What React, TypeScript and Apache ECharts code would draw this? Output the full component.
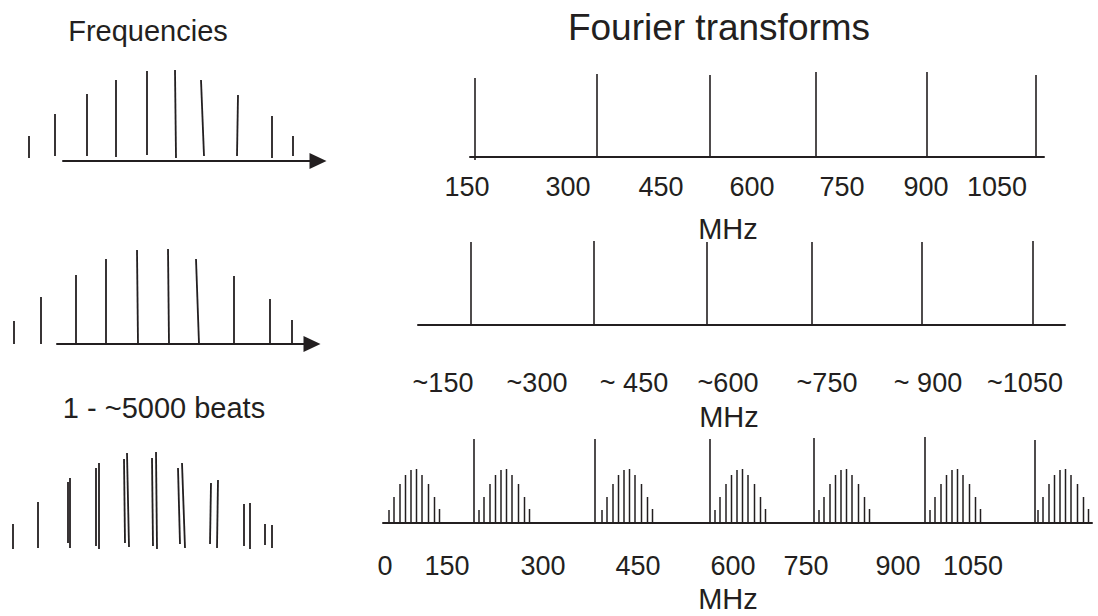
import React, { useEffect, useRef } from "react";
import * as echarts from "echarts";

const INK = "#231f20";
const FONT = "'Liberation Sans', Arial, Helvetica, sans-serif";

// Units in every panel: x = px along the panel's axis from its start, y = px above the axis.
// Stems: [xBottom, yBottom, xTop, yTop]
const freqComb1 = [
  [-34, 3, -34, 25], [-8, 5, -8, 47], [24, 5, 24, 67], [53, 4, 53, 81], [84, 6, 84, 90],
  [113, 3, 112, 91], [141, 5, 138, 81], [174, 5, 175, 66], [209, 3, 209, 45], [230, 5, 230, 25],
];
const freqComb2 = [
  [-43, 0, -43, 23], [-16, 0, -16, 47], [19, 0, 19, 69], [49, 0, 49, 85], [81, 0, 80, 94],
  [112, 0, 111, 95], [142, 0, 139, 85], [177, 0, 177, 68], [213, 0, 213, 45], [235, 0, 235, 24],
];
const beatStems = [
  [13, 1, 13, 26], [38, 2, 38, 48],
  [68, 7, 68, 68], [70, 2, 70, 72],
  [96, 4, 96, 82], [99, 1, 99, 87],
  [125, 7, 124, 91], [129, 3, 127, 97],
  [153, 4, 152, 92], [157, 1, 156, 98],
  [180, 6, 178, 82], [185, 2, 182, 87],
  [210, 6, 211, 67], [217, 2, 218, 70],
  [244, 4, 244, 46], [250, 1, 250, 47],
  [265, 5, 265, 26], [272, 2, 272, 25],
];

// Fourier panel A
const peaksA = [5, 127, 240, 346, 457, 566];
const peakHeightsA = [79, 83, 82, 85, 85, 82];
const tickLabelsA = ["150", "300", "450", "600", "750", "900", "1050"];
const tickPosA = [-3, 98, 191, 282, 372, 456, 527];

// Fourier panel B
const peaksB = [53, 176, 289, 394, 504, 615];
const peakHeightsB = [83, 84, 83, 83, 83, 84];
const tickLabelsB = ["~150", "~300", "~ 450", "~600", "~750", "~ 900", "~1050"];
const tickPosB = [25, 119, 216, 310, 409, 510, 607];

// Fourier panel C
const peaksC = [91, 212, 327, 431, 542, 652];
const peakHeightsC = [84, 84, 84, 85, 86, 83];
const groupStartsC = [6, 96, 219, 332, 436, 547, 655];
const combOffsets = [0, 5, 11, 16.5, 22, 27.5, 33, 39.5, 45.5, 50.5];
const combHeights = [13, 26, 39, 48, 53, 54, 48, 39, 26, 14];
const tickLabelsC = ["0", "150", "300", "450", "600", "750", "900", "1050"];
const tickPosC = [2, 64, 160, 255, 350, 423, 515, 590];

const unitLabel = "MHz";

// Grid layouts (pixels)
const grids = [
  { left: 63, top: 61, width: 255, height: 100, axis: true, arrow: true },   // L1
  { left: 57, top: 244, width: 255, height: 100, axis: true, arrow: true },  // L2
  { left: 0, top: 450, width: 300, height: 100, axis: false, arrow: false }, // L3
  { left: 470, top: 57, width: 574, height: 100, axis: true, arrow: false }, // A
  { left: 418, top: 225, width: 647, height: 100, axis: true, arrow: false },// B
  { left: 383, top: 423, width: 709, height: 100, axis: true, arrow: false },// C
];

function stemSeries(g: number, data: number[][], lw: number) {
  return {
    type: "custom",
    xAxisIndex: g,
    yAxisIndex: g,
    clip: false,
    silent: true,
    data,
    renderItem: (_p: any, api: any) => {
      const a = api.coord([api.value(0), api.value(1)]);
      const b = api.coord([api.value(2), api.value(3)]);
      return {
        type: "line",
        shape: { x1: a[0], y1: a[1], x2: b[0], y2: b[1] },
        style: { stroke: INK, lineWidth: lw },
      };
    },
  };
}

function textSeries(g: number, data: number[][], texts: string[], size: number) {
  return {
    type: "custom",
    xAxisIndex: g,
    yAxisIndex: g,
    clip: false,
    silent: true,
    data,
    renderItem: (p: any, api: any) => {
      const c = api.coord([api.value(0), api.value(1)]);
      return {
        type: "text",
        x: c[0],
        y: c[1],
        style: {
          text: texts[p.dataIndex],
          fill: INK,
          fontSize: size,
          fontFamily: FONT,
          align: "center",
          verticalAlign: "middle",
        },
      };
    },
  };
}

export default function App() {
  const ref = useRef<HTMLDivElement>(null);
  useEffect(() => {
    if (!ref.current) return;
    const chart = echarts.init(ref.current, undefined, { renderer: "svg" });

    const stemsA = peaksA.map((x, i) => [x, i === 0 ? -3 : 0, x, peakHeightsA[i]]);
    const stemsB = peaksB.map((x, i) => [x, 0, x, peakHeightsB[i]]);
    const stemsC = peaksC.map((x, i) => [x, 0, x, peakHeightsC[i]]);
    const combC: number[][] = [];
    groupStartsC.forEach((s) =>
      combOffsets.forEach((o, j) => combC.push([s + o, 0, s + o, combHeights[j]]))
    );

    const option: any = {
      animation: false,
      backgroundColor: "#ffffff",
      grid: grids.map((g) => ({ left: g.left, top: g.top, width: g.width, height: g.height })),
      xAxis: grids.map((g, i) => ({
        type: "value",
        gridIndex: i,
        min: 0,
        max: g.width,
        axisLine: {
          show: g.axis,
          onZero: false,
          symbol: g.arrow ? ["none", "triangle"] : ["none", "none"],
          symbolSize: [16, 17],
          lineStyle: { color: INK, width: 2 },
        },
        axisTick: { show: false },
        axisLabel: { show: false },
        splitLine: { show: false },
      })),
      yAxis: grids.map((g, i) => ({
        type: "value",
        gridIndex: i,
        min: 0,
        max: g.height,
        show: false,
      })),
      graphic: [
        {
          type: "text",
          x: 148,
          y: 31,
          style: { text: "Frequencies", fill: INK, fontSize: 29, fontFamily: FONT, align: "center", verticalAlign: "middle" },
        },
        {
          type: "text",
          x: 719,
          y: 27,
          style: { text: "Fourier transforms", fill: INK, fontSize: 37, fontFamily: FONT, align: "center", verticalAlign: "middle" },
        },
        {
          type: "text",
          x: 164,
          y: 408,
          style: { text: "1 - ~5000 beats", fill: INK, fontSize: 29, fontFamily: FONT, align: "center", verticalAlign: "middle" },
        },
      ],
      series: [
        stemSeries(0, freqComb1, 1.8),
        stemSeries(1, freqComb2, 1.8),
        stemSeries(2, beatStems, 1.8),
        stemSeries(3, stemsA, 1.6),
        stemSeries(4, stemsB, 1.6),
        stemSeries(5, stemsC, 1.6),
        stemSeries(5, combC, 1.5),
        textSeries(3, tickPosA.map((x) => [x, -30]), tickLabelsA, 27),
        textSeries(3, [[258, -72]], [unitLabel], 29),
        textSeries(4, tickPosB.map((x) => [x, -58]), tickLabelsB, 27),
        textSeries(4, [[311, -92]], [unitLabel], 29),
        textSeries(5, tickPosC.map((x) => [x, -43]), tickLabelsC, 27),
        textSeries(5, [[345, -76]], [unitLabel], 29),
      ],
    };
    chart.setOption(option);
    return () => chart.dispose();
  }, []);
  return (
    <div
      ref={ref}
      style={{ position: "absolute", left: 0, top: 0, width: 1098, height: 616, background: "#fff" }}
    />
  );
}
